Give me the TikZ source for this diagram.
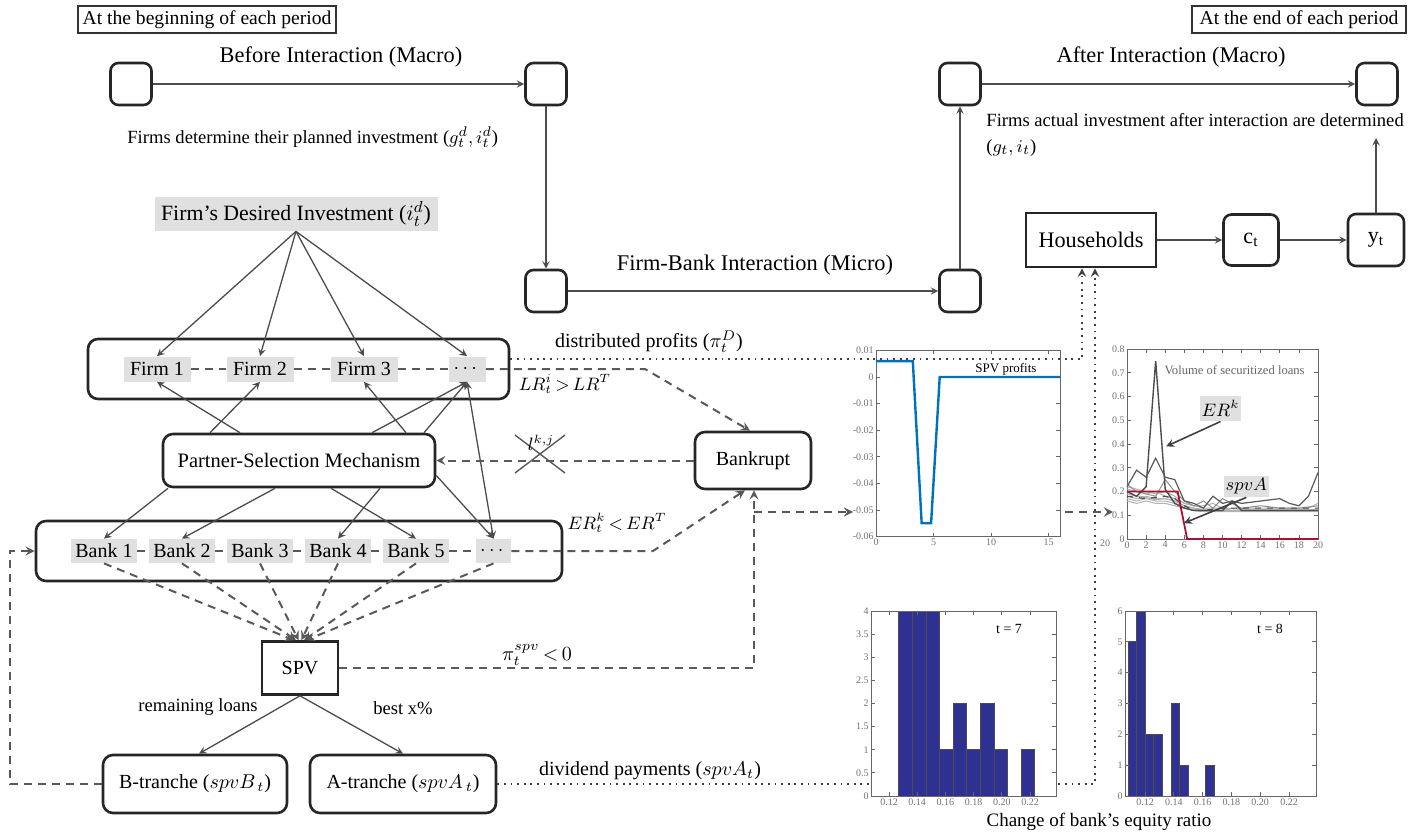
\documentclass[tikz,border=0pt]{standalone}
\usepackage{amsmath}
\usepackage{fontspec}
\setmainfont{Liberation Serif}
\usetikzlibrary{arrows,calc,positioning}

\definecolor{barblue}{RGB}{46,49,146}
\definecolor{mblue}{RGB}{0,114,189}
\definecolor{mred}{RGB}{162,20,47}

\tikzset{
  stage/.style={draw=black!85,line width=1.3pt,rounded corners=4pt,minimum width=20.5pt,minimum height=21pt,inner sep=0pt},
  frame/.style={draw=black!85,line width=1.3pt,rounded corners=5pt,inner sep=0pt},
  agent/.style={fill=black!12,inner sep=0pt,minimum height=12.5pt,minimum width=33.5pt},
  tag/.style={draw=black!80,line width=0.6pt,inner sep=0pt,minimum height=13.5pt,font=\fontsize{9.8}{11}\selectfont},
  head/.style={font=\fontsize{11.2}{13}\selectfont},
  note/.style={font=\fontsize{9.3}{13}\selectfont,inner sep=0pt},
  cond/.style={font=\fontsize{9}{10}\selectfont},
  link/.style={->,draw=black!70,line width=0.65pt},
  dlink/.style={->,draw=black!65,line width=1pt,dash pattern=on 4pt off 3pt},
  dline/.style={draw=black!65,line width=1pt,dash pattern=on 4pt off 3pt},
  dotlink/.style={->,draw=black!75,line width=0.9pt,dash pattern=on 0.9pt off 2.4pt},
  tick/.style={draw=black!60,line width=0.4pt},
  ticklab/.style={font=\fontsize{5}{5}\selectfont,text=black!55,inner sep=1pt},
  bar/.style={fill=barblue,draw=black!70,line width=0.5pt},
  axisbox/.style={draw=black!60,line width=0.5pt},
}

\begin{document}
\begin{tikzpicture}[x=0.5pt,y=-0.5pt,>=stealth,font=\fontsize{10}{12}\selectfont]
\useasboundingbox (0,0) rectangle (1417,834);

% time tags
\node[tag,minimum width=129pt] (begin) at (207,19.5) {At the beginning of each period};
\node[tag,minimum width=107pt] (end) at (1299,19.5) {At the end of each period};

% macro and micro stages
\node[stage] (m1) at (131,84) {};
\node[stage] (m2) at (546,84) {};
\node[stage] (i1) at (546,291) {};
\node[stage] (i2) at (960,291) {};
\node[stage] (a1) at (960,84) {};
\node[stage] (a2) at (1377,84) {};
\draw[link] (m1) -- (m2);
\draw[link] (m2) -- (i1);
\draw[link] (i1) -- (i2);
\draw[link] (i2) -- (a1);
\draw[link] (a1) -- (a2);

\node[head] (before) at (341,57) {Before Interaction (Macro)};
\node[head] (micro) at (755,265) {Firm-Bank Interaction (Micro)};
\node[head] (after) at (1171,57) {After Interaction (Macro)};
\node[note,anchor=west] (plan) at (127,137) {Firms determine their planned investment ($g_t^d, i_t^d$)};
\node[note,anchor=north west,align=left] (actual) at (986,113) {Firms actual investment after interaction are determined\\($g_t, i_t$)};

% households
\node[draw=black!85,line width=1.3pt,minimum width=65pt,minimum height=27pt,font=\fontsize{11.1}{13}\selectfont] (house) at (1091,240) {Households};
\node[frame,rounded corners=4pt,minimum width=27.5pt,minimum height=25.5pt,font=\fontsize{11}{13}\selectfont] (ct) at (1251,240) {c\textsubscript{t}};
\node[frame,rounded corners=4pt,minimum width=28pt,minimum height=26pt,font=\fontsize{11}{13}\selectfont] (yt) at (1376,240) {y\textsubscript{t}};
\coordinate (yend) at (1376,138);
\draw[link] (house) -- (ct);
\draw[link] (ct) -- (yt);
\draw[link] (yt) -- (yend);

% firms
\node[agent,minimum width=141.5pt,minimum height=17pt,font=\fontsize{10.9}{12}\selectfont] (desired) at (296,214) {Firm’s Desired Investment ($i_t^d$)};
\node[frame,minimum width=210.5pt,minimum height=30pt] (firms) at (298.5,369) {};
\node[agent] (f1) at (157,369) {Firm 1};
\node[agent] (f2) at (260,369) {Firm 2};
\node[agent] (f3) at (364,369) {Firm 3};
\node[agent,minimum width=18.5pt] (fd) at (467,369) {$\cdots$};
\foreach \f in {f1,f2,f3,fd}
  \draw[link] (desired.south) -- (\f.north);

% selection and bankruptcy
\node[frame,minimum width=136pt,minimum height=26.5pt,font=\fontsize{10.25}{12}\selectfont] (psm) at (299,460.5) {Partner-Selection Mechanism};
\node[frame,minimum width=58pt,minimum height=28.5pt] (bankrupt) at (753,460.5) {Bankrupt};

% banks
\node[frame,minimum width=263pt,minimum height=30pt] (banks) at (299,551) {};
\foreach \i/\x in {1/104,2/182,3/260,4/338,5/416}
  \node[agent,minimum width=33pt,minimum height=12pt] (b\i) at (\x,551) {Bank \i};
\node[agent,minimum width=17.5pt,minimum height=12pt] (bd) at (493.5,551) {$\cdots$};

\draw[link] ([xshift=-29.5pt]psm.north) -- (f1.south);
\draw[link] ([xshift=-44.5pt]psm.north) -- (f2.south);
\draw[link] ([xshift=53.5pt]psm.north) -- (f3.south);
\draw[link] ([xshift=36.5pt]psm.north) -- (fd.south);
\draw[link] ([xshift=62.5pt]psm.north) -- (fd.south);
\draw[link] ([xshift=-65.5pt]psm.south) -- (b1.north);
\draw[link] ([xshift=-12pt]psm.south) -- (b2.north);
\draw[link] ([xshift=40.5pt]psm.south) -- (b4.north);
\draw[link] ([xshift=16pt]psm.south) -- (b5.north);
\draw[link] ([yshift=-7.5pt]psm.east) -- (bd.north);
\draw[link,<->] (fd.south) -- (bd.north);

% thresholds
\draw[dline] (f1) -- (f2) (f2) -- (f3) (f3) -- (fd);
\coordinate (fbend) at (645,369);
\draw[dlink] (fd) -- (fbend) -- ([xshift=-1.5pt]bankrupt.north);
\draw[dline] (b1) -- (b2) (b2) -- (b3) (b3) -- (b4) (b4) -- (b5) (b5) -- (bd);
\coordinate (bbend) at (653,551);
\draw[dlink] (bd) -- (bbend) -- ([xshift=-4pt]bankrupt.south);
\node[cond] (lr) at (565,384) {$LR_t^i\,{>}\,LR^T$};
\node[cond] (er) at (617,523) {$ER_t^k\,{<}\,ER^T$};

\draw[dlink] (bankrupt) -- (psm);
\coordinate (cut) at (540,454);
\draw[black!65,line width=0.7pt] ($(cut)+(-25,-19)$) -- ($(cut)+(25,19)$) ($(cut)+(-25,19)$) -- ($(cut)+(25,-19)$);
\node[cond] (lkj) at (541,443) {$l^{k,j}$};

% SPV and tranches
\node[draw=black!85,line width=1.3pt,minimum width=38pt,minimum height=26.5pt] (spv) at (300,668) {SPV};
\foreach \b/\s in {b1/-3,b2/-2,b3/-0.7,b4/0.7,b5/2,bd/3}
  \draw[dlink] (\b.south) -- ([xshift=\s pt]spv.north);
\draw[dlink] (spv.east) -| ([xshift=0.5pt]bankrupt.south);
\node (pispv) at (537,655) {$\pi_t^{spv}\,{<}\,0$};

\node[frame,minimum width=92pt,minimum height=29pt] (btr) at (195,784) {B-tranche ($spvB_{\,t}$)};
\node[frame,minimum width=93pt,minimum height=29pt] (atr) at (403,784) {A-tranche ($spvA_{\,t}$)};
\draw[link] (spv.south) -- ([xshift=2pt]btr.north);
\draw[link] (spv.south) -- (atr.north);
\node[font=\fontsize{9.3}{10}\selectfont] (rem) at (198,707) {remaining loans};
\node[font=\fontsize{9.3}{10}\selectfont] (best) at (403,708) {best x\%};
\coordinate (back) at (10,784);
\draw[dlink] (btr.west) -- (back) |- (banks.west);

% flows to households
\draw[dotlink] ([yshift=5pt]firms.east) -| ([xshift=-4.5pt]house.south);
\node (distlab) at (649,342) {distributed profits ($\pi_t^D$)};
\draw[dotlink] (atr.east) -| ([xshift=2pt]house.south);
\node (divlab) at (650,771) {dividend payments ($spvA_t$)};

% links into the charts
\coordinate (tap) at (754,512);
\coordinate (prof) at (853,512);
\draw[dlink] (tap) -- (prof);
\coordinate (volout) at (1065,512);
\coordinate (volin) at (1113,512);
\draw[dlink] (volout) -- (volin);

% SPV profits
\begin{scope}[shift={(876,377)},x=5.75pt,y=1330pt]
  \draw[axisbox] (0,-0.06) rectangle (16,0.01);
  \foreach \v [count=\i] in {0.01,0,-0.01,-0.02,-0.03,-0.04,-0.05,-0.06} {
    \draw[tick] (0,\v) -- ++(2pt,0pt) (16,\v) -- ++(-2pt,0pt);
    \node[ticklab,anchor=east] (pv\i) at (0,\v) {\v};
  }
  \foreach \x [count=\i] in {0,5,10,15} {
    \draw[tick] (\x,-0.06) -- ++(0pt,2pt) (\x,0.01) -- ++(0pt,-2pt);
    \node[ticklab,anchor=north] (px\i) at (\x,-0.06) {\x};
  }
  \draw[mblue,line width=1.2pt] (0,0.006) -- (3.2,0.006) -- (3.97,-0.055) -- (4.79,-0.055) -- (5.54,0) -- (16,0);
  \node[font=\fontsize{6.5}{7}\selectfont] (spvlab) at (11.3,0.003) {SPV profits};
\end{scope}

% volume of securitized loans
\begin{scope}[shift={(1127,539)},x=4.775pt,y=118.75pt]
  \draw[axisbox] (0,0) rectangle (20,0.8);
  \foreach \v [count=\i] in {0,0.1,0.2,0.3,0.4,0.5,0.6,0.7,0.8} {
    \draw[tick] (0,\v) -- ++(2pt,0pt) (20,\v) -- ++(-2pt,0pt);
    \node[ticklab,anchor=east] (vv\i) at (0,\v) {\v};
  }
  \foreach \x [count=\i] in {0,2,...,20} {
    \draw[tick] (\x,0) -- ++(0pt,2pt) (\x,0.8) -- ++(0pt,-2pt);
    \node[ticklab,anchor=north] (vx\i) at (\x,0) {\x};
  }
  \draw[black!30,line width=0.5pt] plot coordinates {(0,.19) (1,.18) (2,.18) (3,.17) (4,.17) (5,.16) (6,.14) (7,.13) (8,.12) (20,.12)};
  \draw[black!30,line width=0.5pt] plot coordinates {(0,.17) (1,.16) (2,.17) (3,.16) (4,.16) (5,.15) (6,.13) (7,.12) (8,.115) (20,.115)};
  \draw[black!30,line width=0.5pt] plot coordinates {(0,.21) (1,.2) (2,.19) (3,.2) (4,.18) (5,.17) (6,.15) (7,.14) (8,.13) (10,.13) (12,.125) (20,.125)};
  \draw[black!30,line width=0.5pt] plot coordinates {(0,.16) (1,.15) (2,.16) (3,.15) (4,.15) (5,.14) (6,.13) (7,.125) (9,.12) (20,.12)};
  \draw[black!30,line width=0.5pt] plot coordinates {(0,.22) (1,.21) (2,.2) (3,.19) (4,.2) (5,.18) (6,.15) (7,.14) (8,.14) (9,.15) (10,.13) (11,.12) (20,.12)};
  \draw[black!30,line width=0.5pt] plot coordinates {(0,.18) (1,.17) (2,.175) (3,.165) (4,.17) (5,.16) (6,.14) (7,.13) (8,.125) (13,.13) (19,.13) (20,.15)};
  \draw[black!45,line width=0.5pt] plot coordinates {(0,.23) (1,.2) (2,.19) (3,.18) (4,.25) (5,.2) (6,.16) (7,.14) (8,.16) (9,.13) (10,.17) (11,.15) (12,.13) (14,.14) (16,.13) (18,.13) (20,.14)};
  \draw[black!70,line width=0.6pt,dashed] plot coordinates {(0,.18) (2,.17) (4,.18) (5,.17) (6,.14) (7,.12) (8,.12) (10,.13) (20,.13)};
  \draw[black!70,line width=0.7pt] plot coordinates {(0,.2) (1,.18) (2,.22) (3,.75) (4,.21) (5,.15) (6,.13) (7,.12) (10,.12) (11,.16) (12,.12) (20,.12)};
  \draw[black!65,line width=0.6pt] plot coordinates {(0,.22) (1,.29) (2,.26) (3,.34) (4,.26) (5,.25) (6,.16) (7,.15) (8,.13) (9,.18) (10,.15) (11,.16) (12,.15) (14,.16) (16,.17) (17,.15) (18,.14) (19,.18) (20,.28)};
  \draw[mred,line width=0.9pt] (0,.2) -- (5.3,.2) -- (6.3,0) -- (20,0);
  \node[font=\fontsize{6.3}{7}\selectfont,text=black!60] (vollab) at (11.26,0.71) {Volume of securitized loans};
  \node[agent,minimum width=20.5pt,minimum height=12.5pt,font=\fontsize{9}{10}\selectfont] (erk) at (9.79,0.549) {$ER^k$};
  \node[agent,minimum width=22.5pt,minimum height=10.5pt,font=\fontsize{9}{10}\selectfont] (spva) at (12.5,0.221) {$spvA$};
  \draw[->,black!75,line width=0.8pt] (erk.south) -- (4.1,0.39);
  \draw[->,black!75,line width=0.8pt] (spva.south) -- (5.97,0.067);
\end{scope}
\node[ticklab] (twenty) at (1105,543) {20};

% histogram t = 7
\begin{scope}[shift={(871,796)},y=23.125pt]
  \fill[white] (0,0) rectangle (185,4);
  \foreach \h [count=\k from 0] in {4,4,4,1,2,1,2,1,0,1}
    \draw[bar] ({27.9+13.6*\k},0) rectangle ({41.5+13.6*\k},\h);
  \draw[axisbox] (0,0) rectangle (185,4);
  \foreach \v [count=\i] in {0,0.5,1,1.5,2,2.5,3,3.5,4} {
    \draw[tick] (0,\v) -- ++(2pt,0pt) (185,\v) -- ++(-2pt,0pt);
    \node[ticklab,anchor=east] (hv\i) at (0,\v) {\v};
  }
  \foreach \x/\l [count=\i] in {18/0.12,46.2/0.14,74.4/0.16,102.6/0.18,130.8/0.20,159/0.22} {
    \draw[tick] (\x,0) -- ++(0pt,2pt) (\x,4) -- ++(0pt,-2pt);
    \node[ticklab,anchor=north] (hx\i) at (\x,0) {\l};
  }
  \node[font=\fontsize{7}{8}\selectfont] (t7) at (138,3.61) {t = 7};
\end{scope}

% histogram t = 8
\begin{scope}[shift={(1125,796)},y=15.415pt]
  \fill[white] (0,0) rectangle (191,6);
  \foreach \h [count=\k from 0] in {5,6,2,2,0,3,1,0,0,1}
    \draw[bar] ({3+8.6*\k},0) rectangle ({11.6+8.6*\k},\h);
  \draw[axisbox] (0,0) rectangle (191,6);
  \foreach \v [count=\i] in {0,1,2,3,4,5,6} {
    \draw[tick] (0,\v) -- ++(2pt,0pt) (191,\v) -- ++(-2pt,0pt);
    \node[ticklab,anchor=east] (gv\i) at (0,\v) {\v};
  }
  \foreach \x/\l [count=\i] in {20/0.12,48.8/0.14,77.6/0.16,106.4/0.18,135.2/0.20,164/0.22} {
    \draw[tick] (\x,0) -- ++(0pt,2pt) (\x,6) -- ++(0pt,-2pt);
    \node[ticklab,anchor=north] (gx\i) at (\x,0) {\l};
  }
  \node[font=\fontsize{7}{8}\selectfont] (t8) at (145,5.42) {t = 8};
\end{scope}
\node[font=\fontsize{9.5}{11}\selectfont] (change) at (1099,822) {Change of bank’s equity ratio};

\end{tikzpicture}
\end{document}
